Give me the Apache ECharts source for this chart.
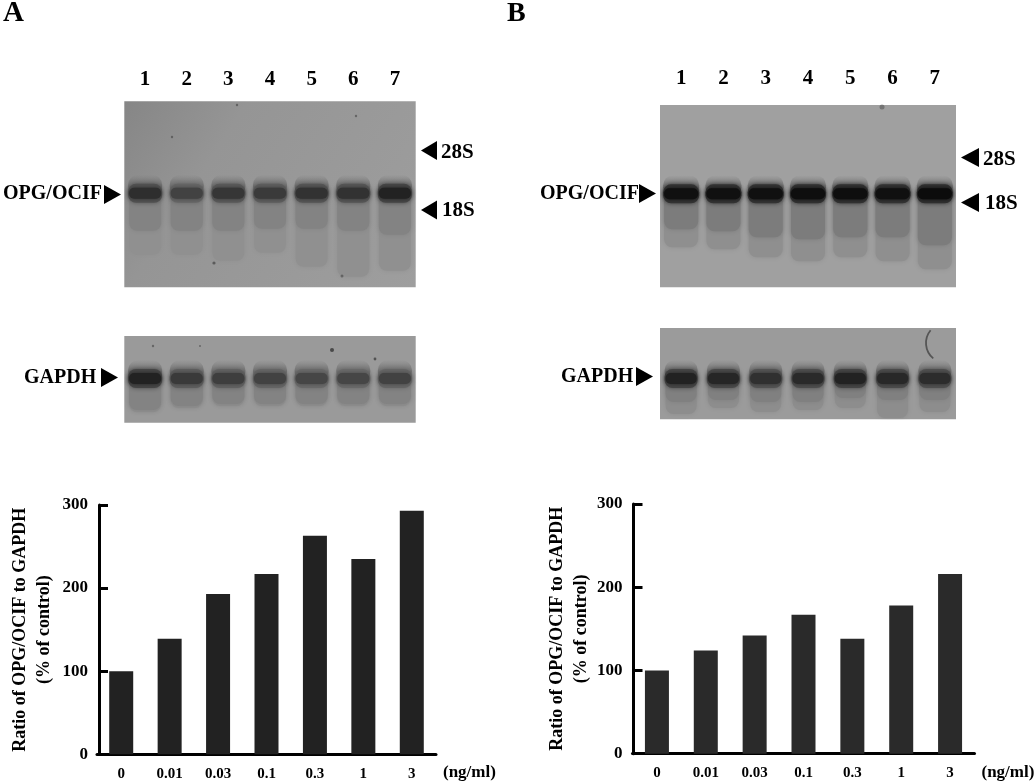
<!DOCTYPE html>
<html>
<head>
<meta charset="utf-8">
<style>html,body{margin:0;padding:0;background:#fff}#c{width:1034px;height:782px}</style>
<script src="https://cdn.jsdelivr.net/npm/echarts@6/dist/echarts.min.js"></script>
</head>
<body>
<div id="c"></div>
<script>
const doses = ['0','0.01','0.03','0.1','0.3','1','3'];
const lanes = ['1','2','3','4','5','6','7'];
const ratioA = [100,139,193,217,263,235,293];
const ratioB = [100,124,142,167,138,178,216];
const yTicks = [0,100,200,300];
// Blot lanes: band grey level, near smear length, far smear length
const opgAGrey = [46,66,54,58,50,50,34];
const opgASmear = [38,38,38,36,36,38,42];
const opgAFar = [62,62,68,60,74,84,78];
const gapdhAGrey = [34,58,62,66,70,70,66];
const gapdhASmear = [32,28,26,26,26,26,26];
const gapdhAFar = [34,30,28,28,28,28,28];
const opgBGrey = [16,16,16,14,14,16,12];
const opgBSmear = [36,38,44,46,44,44,52];
const opgBFar = [54,56,64,68,64,68,76];
const gapdhBGrey = [34,38,48,42,34,40,44];
const gapdhBSmear = [24,22,24,24,20,22,22];
const gapdhBFar = [36,30,34,32,30,40,34];

const FONT = '"Liberation Serif","Times New Roman",serif';
const grad = (c0,c1,c2)=>({type:'linear',x:0,y:0,x2:1,y2:1,colorStops:[{offset:0,color:c0},{offset:0.3,color:c1},{offset:1,color:c2}]});
const panels = {
  a1:{l:124.3,t:101.3,w:291.4,h:186,band:91.5,bg:grad('#868686','#959595','#9e9e9e'),near:'#838383',far:'#909090',bw:34},
  a2:{l:124.3,t:336,w:291.4,h:86.7,band:42,bg:'#9a9a9a',near:'#838383',far:'#8e8e8e',bw:34},
  b1:{l:660,t:105,w:296,h:182.3,band:88.3,bg:'#a0a0a0',near:'#7c7c7c',far:'#8f8f8f',bw:36},
  b2:{l:660,t:328,w:296,h:91.3,band:50,bg:'#9b9b9b',near:'#808080',far:'#8d8d8d',bw:33}
};
function blotSeries(idx, p, grey, smear, far){
  return {
    type:'custom', xAxisIndex:idx, yAxisIndex:idx, silent:true, clip:true, z:3,
    data: grey.map((g,i)=>[i,p.band,g,smear[i],far[i]]),
    encode:{x:0,y:1},
    renderItem(params, api){
      const c = api.coord([api.value(0), api.value(1)]);
      const g = api.value(2), n = api.value(3), f = api.value(4), w = p.bw;
      const rect = (x,y,wd,h,r,fill,blur,sc)=>({type:'rect',
        shape:{x,y,width:wd,height:h,r},
        style:{fill,shadowBlur:blur||0,shadowColor:sc||fill}});
      const core = 'rgb('+g+','+g+','+g+')';
      const m = g+36, mid = 'rgb('+m+','+m+','+m+')';
      const halo = {type:'linear',x:0,y:0,x2:0,y2:1,colorStops:[{offset:0,color:'rgba(110,110,110,0)'},{offset:0.6,color:'rgba(100,100,100,0.9)'},{offset:1,color:'rgba(90,90,90,1)'}]};
      return {type:'group',children:[
        rect(c[0]-w/2+1,c[1],w-2,f,8,p.far,5),
        rect(c[0]-w/2+1,c[1],w-2,n,8,p.near,5),
        rect(c[0]-w/2,c[1]-18,w,22,10,halo,0),
        rect(c[0]-w/2,c[1]-9,w,19,8,mid,5),
        rect(c[0]-w/2+1,c[1]-5,w-2,11,5,core,4)
      ]};
    }
  };
}
function leftTri(x,y,w,h){return {type:'polygon',shape:{points:[[x,y+h/2],[x+w,y],[x+w,y+h]]},style:{fill:'#000'},z:10};}
function rightTri(x,y,w,h){return {type:'polygon',shape:{points:[[x,y],[x+w,y+h/2],[x,y+h]]},style:{fill:'#000'},z:10};}
function label(x,y,text,size,align){return {type:'text',x,y,z:10,style:{text,font:'bold '+size+'px '+FONT,fill:'#000',align:align||'left',verticalAlign:'middle'}};}
function speck(x,y,r,o){return {type:'circle',shape:{cx:x,cy:y,r},style:{fill:'#333',opacity:o||0.5},z:10};}

const barGrids = [
  {left:97,top:505,width:339,height:249.3,outerBoundsMode:'none'},
  {left:632.5,top:504,width:342,height:249.7,outerBoundsMode:'none'}
];
const blots = [panels.a1,panels.a2,panels.b1,panels.b2];
const grids = barGrids.concat(blots.map(p=>({left:p.l,top:p.t,width:p.w,height:p.h,show:true,backgroundColor:p.bg,borderWidth:0,outerBoundsMode:'none'})));

const barX = i=>({type:'category',gridIndex:i,data:doses,
  axisLine:{show:true,onZero:false,lineStyle:{color:'#000',width:3}},axisTick:{show:false},
  axisLabel:{interval:0,margin:12,color:'#000',fontFamily:FONT,fontWeight:'bold',fontSize:15},
  name:'(ng/ml)',nameLocation:'end',nameGap:7,
  nameTextStyle:{color:'#000',fontFamily:FONT,fontWeight:'bold',fontSize:17,verticalAlign:'top',padding:[10,0,0,0]}});
const barY = (i,off,gap)=>({type:'value',gridIndex:i,min:yTicks[0],max:yTicks[3],interval:yTicks[1]-yTicks[0],offset:off,
  axisLine:{show:true,lineStyle:{color:'#000',width:3}},
  axisTick:{show:true,inside:true,length:9,lineStyle:{color:'#000',width:3}},
  splitLine:{show:false},
  axisLabel:{margin:11,color:'#000',fontFamily:FONT,fontWeight:'bold',fontSize:17},
  name:'Ratio of OPG/OCIF to GAPDH\n(% of control)',nameLocation:'middle',nameRotate:90,nameGap:gap,
  nameTextStyle:{color:'#000',fontFamily:FONT,fontWeight:'bold',fontSize:18,lineHeight:24}});
const blotX = (i,show,margin)=>({type:'category',gridIndex:i,data:lanes,position:'top',
  axisLine:{show:false},axisTick:{show:false},
  axisLabel:{show:show,interval:0,margin:margin,color:'#000',fontFamily:FONT,fontWeight:'bold',fontSize:21}});
const blotY = (i,p)=>({type:'value',gridIndex:i,min:0,max:p.h,inverse:true,show:false,splitLine:{show:false}});

const option = {
  animation:false,
  backgroundColor:'#fff',
  grid:grids,
  xAxis:[barX(0),barX(1),blotX(2,true,11),blotX(3,false,0),blotX(4,true,16),blotX(5,false,0)],
  yAxis:[barY(0,-2,43),barY(1,-1,38),blotY(2,panels.a1),blotY(3,panels.a2),blotY(4,panels.b1),blotY(5,panels.b2)],
  series:[
    {type:'bar',xAxisIndex:0,yAxisIndex:0,data:ratioA,barWidth:24,itemStyle:{color:'#222222'},z:2},
    {type:'bar',xAxisIndex:1,yAxisIndex:1,data:ratioB,barWidth:24,itemStyle:{color:'#2a2a2a'},z:2},
    blotSeries(2,panels.a1,opgAGrey,opgASmear,opgAFar),
    blotSeries(3,panels.a2,gapdhAGrey,gapdhASmear,gapdhAFar),
    blotSeries(4,panels.b1,opgBGrey,opgBSmear,opgBFar),
    blotSeries(5,panels.b2,gapdhBGrey,gapdhBSmear,gapdhBFar)
  ],
  graphic:{elements:[
    label(3,14,'A',29),
    label(507,14,'B',28),
    label(3,194,'OPG/OCIF',20),
    label(24,378,'GAPDH',20),
    label(441,153,'28S',21),
    label(442,211,'18S',21),
    label(540,194,'OPG/OCIF',20),
    label(561,377,'GAPDH',20),
    label(983,160,'28S',21),
    label(985,204,'18S',21),
    rightTri(104,185,17,19),
    rightTri(101,368,17,19),
    leftTri(421,141,16,19),
    leftTri(421,200.5,16,19),
    rightTri(639,184,17,19),
    rightTri(636,367,17,19),
    leftTri(961,148,18,19),
    leftTri(961,193,18,19),
    speck(214,263,1.6,0.6), speck(237,105,1.2), speck(356,116,1.2), speck(172,137,1.2),
    speck(342,276,1.5), speck(332,350,2,0.8), speck(375,359,1.4,0.7), speck(153,346,1.2), speck(200,346,1),
    speck(882,107,2.5,0.4),
    {type:'arc',z:10,shape:{cx:946,cy:343,r:20,startAngle:Math.PI*0.72,endAngle:Math.PI*1.22},style:{stroke:'#555',lineWidth:1.8,fill:'none'}}
  ]}
};
echarts.init(document.getElementById('c'),null,{renderer:'canvas'}).setOption(option);
</script>
</body>
</html>
